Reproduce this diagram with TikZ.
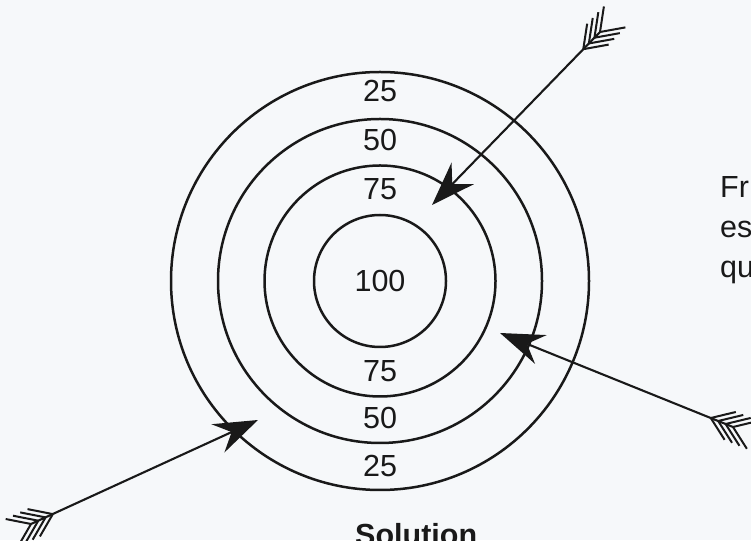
\documentclass[tikz,border=0pt]{standalone}
\usepackage{fontspec}
\setmainfont{Liberation Sans}
\usetikzlibrary{arrows.meta}
\definecolor{bg}{RGB}{246,248,250}
\definecolor{ink}{RGB}{25,25,25}
\tikzset{
  ring/.style={draw=ink, line width=2.5pt},
  score/.style={inner sep=0pt, text=ink, font=\fontsize{30.5}{36}\selectfont},
  sidetext/.style={inner sep=0pt, anchor=base west, text=ink, font=\fontsize{30.5}{36}\selectfont},
  shaft/.style={draw=ink, line width=2.1pt, -{Stealth[length=44pt,width=31pt,inset=15pt]}},
  fletch/.pic={
    \foreach \s in {0,8,16,24} {
      \draw[ink, line width=2pt] (\s,0) -- ++(-21,15);
      \draw[ink, line width=2pt] (\s,0) -- ++(-21,-15);
    }
  }
}
\begin{document}
\begin{tikzpicture}[x=1pt,y=1pt]
\clip (0,0) rectangle (751,540);
\fill[bg] (0,0) rectangle (751,540);
\coordinate (c) at (380,259);
\draw[ring] (c) circle[radius=209];
\draw[ring] (c) circle[radius=162];
\draw[ring] (c) circle[radius=115.5];
\draw[ring] (c) circle[radius=66];
\node[score] (t25) at (380,449) {25};
\node[score] (t50) at (380,400) {50};
\node[score] (t75) at (380,351) {75};
\node[score] (t100) at (380,259) {100};
\node[score] (b75) at (380,169) {75};
\node[score] (b50) at (380,122) {50};
\node[score] (b25) at (380,73.5) {25};
\node[sidetext] (l1) at (720,342) {Fr};
\node[sidetext] (l2) at (720,302) {es};
\node[sidetext] (l3) at (720,262) {qu};
\node[inner sep=0pt, anchor=base west, text=ink, font=\fontsize{30.5}{36}\selectfont\bfseries] (sol) at (355,-5) {Solution};
% arrows
\coordinate (t1) at (600,508);
\coordinate (h1) at (432,335);
\coordinate (t2) at (733,113);
\coordinate (h2) at (500,207);
\coordinate (t3) at (31,16);
\coordinate (h3) at (258,120);
\draw[shaft] (t1) -- (h1);
\draw[shaft] (t2) -- (h2);
\draw[shaft] (t3) -- (h3);
\pic[rotate=225.8] at (t1) {fletch};
\pic[rotate=158.0] at (t2) {fletch};
\pic[rotate=24.4] at (t3) {fletch};
\end{tikzpicture}
\end{document}
